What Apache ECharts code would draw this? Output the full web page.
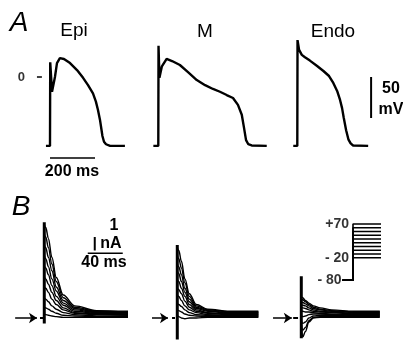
<!DOCTYPE html>
<html>
<head>
<meta charset="utf-8">
<style>
  html, body { margin: 0; padding: 0; background: #fff; }
  #chart { width: 403px; height: 340px; }
</style>
<script src="https://cdn.jsdelivr.net/npm/echarts@6/dist/echarts.min.js"></script>
</head>
<body>
<div id="chart"></div>
<script>
// ---- Panel A: action potentials (time in ms, potential in mV) ----
const epiApTime  = [-18, 0, 1, 9, 22, 31, 44, 62, 89, 120, 147, 169, 191, 204, 213, 222, 227, 233, 240, 249, 267, 333];
const epiApVolt  = [-84, -84, 18, -18, 0, 17, 23, 22, 17, 8.5, -1, -10, -20, -30, -40, -52, -61, -72, -79, -82, -84, -84];
const mApTime    = [-22, 0, 1, 5, 16, 37, 61, 96, 132, 171, 208, 243, 274, 304, 332, 354, 371, 381, 390, 400, 415, 482];
const mApVolt    = [-84, -84, 38, -1, 13, 22, 19.5, 14.6, 6, -3.7, -10, -14.6, -18, -22, -25.6, -34, -46, -62, -77, -82, -83.5, -84];
const endoApTime = [-18, 0, 1, 8, 20, 34, 56, 88, 116, 141, 160, 177, 190, 199, 206, 217, 227, 237, 248, 315];
const endoApVolt = [-84, -84, 45, 33, 27, 24, 20, 13.4, 7.3, 1.2, -7.3, -17, -28, -38, -49, -65, -76, -81, -83.5, -84];
const zeroMark = [-58, -36]; // ms span of the "0 mV" tick, left of the Epi trace

// ---- Panel B: transient outward currents (time in ms, current in nA) ----
const epiCurTime  = [0, 2, 5, 9, 14, 22, 35, 60, 96];
const mCurTime    = [0, 2, 5, 9, 14, 22, 35, 60, 93];
const endoCurTime = [0, 2, 5, 9, 14, 22, 35, 60, 90];
const epiCurrents = [
  [0.3, 0.25, 0.2, 0.15, 0.1, 0.05, 0.05, 0.05, 0.05],
  [0.8, 0.75, 0.65, 0.5, 0.35, 0.2, 0.15, 0.1, 0.1],
  [1.5, 1.4, 1.2, 0.9, 0.65, 0.4, 0.25, 0.15, 0.15],
  [2.3, 2.2, 1.9, 1.4, 1.0, 0.6, 0.35, 0.25, 0.2],
  [3.1, 2.9, 2.5, 1.9, 1.3, 0.75, 0.4, 0.3, 0.25],
  [3.9, 3.7, 3.2, 2.4, 1.6, 0.95, 0.5, 0.35, 0.3],
  [4.7, 4.4, 3.8, 2.9, 2.0, 1.1, 0.6, 0.4, 0.35],
  [5.5, 5.2, 4.5, 3.5, 2.3, 1.3, 0.7, 0.45, 0.4],
  [6.3, 6.0, 5.2, 4.0, 2.7, 1.5, 0.8, 0.5, 0.45],
  [7.0, 6.7, 5.9, 4.5, 3.0, 1.7, 0.9, 0.55, 0.5]
];
const mCurrents = [
  [0.2, 0.1, 0.0, -0.05, 0.0, 0.0, 0.05, 0.05, 0.05],
  [0.6, 0.55, 0.45, 0.3, 0.2, 0.15, 0.1, 0.1, 0.1],
  [1.1, 1.0, 0.85, 0.6, 0.4, 0.25, 0.2, 0.15, 0.15],
  [1.7, 1.6, 1.3, 0.9, 0.6, 0.4, 0.25, 0.2, 0.2],
  [2.3, 2.1, 1.8, 1.25, 0.8, 0.5, 0.35, 0.25, 0.25],
  [2.9, 2.7, 2.2, 1.6, 1.0, 0.6, 0.4, 0.3, 0.3],
  [3.5, 3.3, 2.7, 1.9, 1.2, 0.7, 0.5, 0.35, 0.35],
  [4.1, 3.8, 3.2, 2.2, 1.4, 0.8, 0.55, 0.4, 0.4],
  [4.7, 4.4, 3.7, 2.6, 1.6, 0.9, 0.6, 0.45, 0.45],
  [5.3, 5.0, 4.2, 2.9, 1.8, 1.0, 0.65, 0.5, 0.5]
];
const endoCurrents = [
  [-0.5, -1.4, -1.0, -0.3, 0.0, 0.05, 0.05, 0.05, 0.05],
  [-0.3, -0.9, -0.7, -0.2, 0.05, 0.1, 0.1, 0.1, 0.1],
  [-0.1, -0.4, -0.3, 0.0, 0.15, 0.2, 0.2, 0.15, 0.15],
  [0.2, 0.1, 0.15, 0.25, 0.3, 0.3, 0.25, 0.2, 0.2],
  [0.5, 0.5, 0.45, 0.45, 0.4, 0.35, 0.3, 0.25, 0.25],
  [0.8, 0.75, 0.7, 0.6, 0.5, 0.45, 0.4, 0.3, 0.3],
  [1.0, 0.95, 0.9, 0.75, 0.6, 0.5, 0.45, 0.35, 0.35],
  [1.2, 1.15, 1.05, 0.9, 0.7, 0.6, 0.5, 0.4, 0.4],
  [1.4, 1.35, 1.2, 1.0, 0.8, 0.65, 0.55, 0.45, 0.45],
  [1.6, 1.5, 1.3, 1.1, 0.9, 0.75, 0.6, 0.5, 0.5]
];
// capacitive transient at step onset [min, max] nA
const epiSpike  = [-0.4, 7.1];
const mSpike    = [-1.6, 5.4];
const endoSpike = [-1.5, 3.1];
// zero-current arrows [start, end] ms and dash [start, end] ms
const epiArrow  = [-33, -8],      epiDash  = [-4.6, -1.1];
const mArrow    = [-28.6, -10.3], mDash    = [-5.7, -2.3];
const endoArrow = [-32, -10.5],   endoDash = [-9, -3.4];

// ---- voltage protocol (mV) ----
const holdingPotential = -80;
const testPotentials = [-20, -10, 0, 10, 20, 30, 40, 50, 60, 70];
const protocolTime = [-12, 0, 32];
const protocolLabels = ['+70', '- 20', '- 80'];
const protocolLabelValues = [70, -20, -80];

// ---- scale bars ----
const apTimeBar = [0, 200];   // ms at -98.8 mV (Epi)
const apVoltBar = [0, -50];   // mV at 328 ms (Endo)
const curAmpBar = [5.0, 6.0]; // nA at 58 ms (Epi B)
const curTimeBar = [50, 90];  // ms at 4.8 nA (Epi B)

const FONT = 'Liberation Sans, Arial, sans-serif';
const INK = '#000';

const zip = (xs, ys) => xs.map((x, i) => [x, ys[i]]);

const grids = [
  {left: 36.5, top: 36, width: 92.25, height: 123},      // 0 Epi AP
  {left: 151.55, top: 36, width: 119.25, height: 123},   // 1 M AP
  {left: 290.55, top: 36, width: 85.5, height: 123},     // 2 Endo AP
  {left: 13.4, top: 210, width: 114.6, height: 129.6},   // 3 Epi I
  {left: 146.4, top: 210, width: 112, height: 129.6},    // 4 M I
  {left: 270.4, top: 210, width: 109.4, height: 129.6},  // 5 Endo I
  {left: 342.5, top: 220.25, width: 38.5, height: 63.75} // 6 protocol
];
const xRanges = [[-60, 350], [-30, 500], [-30, 350], [-35, 96], [-35, 93], [-35, 90], [-12, 32]];
const yRanges = [[-100, 50], [-100, 50], [-100, 50], [-1.6, 8], [-1.6, 8], [-1.6, 8], [-90, 80]];

const xAxis = xRanges.map((r, i) => ({type: 'value', gridIndex: i, min: r[0], max: r[1], show: false}));
const yAxis = yRanges.map((r, i) => ({type: 'value', gridIndex: i, min: r[0], max: r[1], show: false}));

const line = (g, data, width, extra) => Object.assign({
  type: 'line', xAxisIndex: g, yAxisIndex: g, data: data, symbol: 'none',
  silent: true, lineStyle: {color: INK, width: width}
}, extra || {});

const series = [];
series.push(line(0, zip(epiApTime, epiApVolt), 2.4));
series.push(line(1, zip(mApTime, mApVolt), 2.4));
series.push(line(2, zip(endoApTime, endoApVolt), 2.4));
series.push(line(0, [[apTimeBar[0], -98.8], [apTimeBar[1], -98.8]], 1.5));
series.push(line(2, [[328, apVoltBar[0]], [328, apVoltBar[1]]], 2));
// "0 –" mark
series.push(line(0, [[zeroMark[0], 0], [zeroMark[1], 0]], 1.5));
series.push({
  type: 'scatter', xAxisIndex: 0, yAxisIndex: 0, symbolSize: 0, silent: true,
  data: [[zeroMark[0], 0]],
  label: {show: true, position: 'left', distance: 12, formatter: '0',
    color: INK, fontSize: 13, fontWeight: 'bold', fontFamily: FONT}
});

const curPanels = [
  {g: 3, t: epiCurTime, tr: epiCurrents, spike: epiSpike, arrow: epiArrow, dash: epiDash},
  {g: 4, t: mCurTime, tr: mCurrents, spike: mSpike, arrow: mArrow, dash: mDash},
  {g: 5, t: endoCurTime, tr: endoCurrents, spike: endoSpike, arrow: endoArrow, dash: endoDash}
];
curPanels.forEach(p => {
  p.tr.forEach(vals => {
    series.push(line(p.g, zip(p.t, vals), 1.4, {smooth: 0.35, smoothMonotone: 'x'}));
  });
  series.push(line(p.g, [[0.3, p.spike[0]], [0.3, p.spike[1]]], 3, {
    markLine: {
      silent: true, symbol: ['none', 'arrow'], symbolSize: 8,
      label: {show: false},
      lineStyle: {color: INK, width: 1.5, type: 'solid'},
      data: [[{coord: [p.arrow[0], 0]}, {coord: [p.arrow[1], 0]}]]
    }
  }));
  series.push(line(p.g, [[p.dash[0], 0], [p.dash[1], 0]], 2));
});

series.push(line(3, [[58, curAmpBar[0]], [58, curAmpBar[1]]], 2));
series.push(line(3, [[curTimeBar[0], 4.8], [curTimeBar[1], 4.8]], 1.5));

// voltage protocol steps
testPotentials.forEach(v => {
  series.push(line(6, [[protocolTime[0], holdingPotential], [protocolTime[1], holdingPotential],
    [protocolTime[1], v], [protocolTime[2], v]], 1.6));
});
series.push({
  type: 'scatter', xAxisIndex: 6, yAxisIndex: 6, symbolSize: 0, silent: true,
  data: protocolLabelValues.map((v, i) => ({
    value: [v === holdingPotential ? protocolTime[0] : protocolTime[1], v],
    label: {show: true, position: 'left', distance: v === holdingPotential ? 1 : 4,
      formatter: protocolLabels[i], color: INK, fontSize: 14, fontWeight: 'bold', fontFamily: FONT}
  }))
});

const txt = (text, x, y, size, weight, style) => ({
  type: 'text', x: x, y: y, silent: true,
  style: {text: text, fill: INK, fontSize: size, fontWeight: weight || 'normal',
    fontStyle: style || 'normal', fontFamily: FONT, align: 'center', verticalAlign: 'middle'}
});

const chart = echarts.init(document.getElementById('chart'));
chart.setOption({
  animation: false,
  backgroundColor: '#fff',
  grid: grids,
  xAxis: xAxis,
  yAxis: yAxis,
  series: series,
  graphic: [
    txt('A', 19, 23, 28, 'normal', 'italic'),
    txt('Epi', 74, 31, 19),
    txt('M', 205, 32, 19),
    txt('Endo', 333, 32, 19),
    txt('200 ms', 72, 171.5, 16, 'bold'),
    txt('50', 391, 89, 16, 'bold'),
    txt('mV', 391, 110, 16, 'bold'),
    txt('B', 21, 207, 28, 'normal', 'italic'),
    txt('1', 114, 226, 16, 'bold'),
    txt('nA', 111, 244, 16, 'bold'),
    txt('40 ms', 104, 263, 16, 'bold')
  ]
});
</script>
</body>
</html>
